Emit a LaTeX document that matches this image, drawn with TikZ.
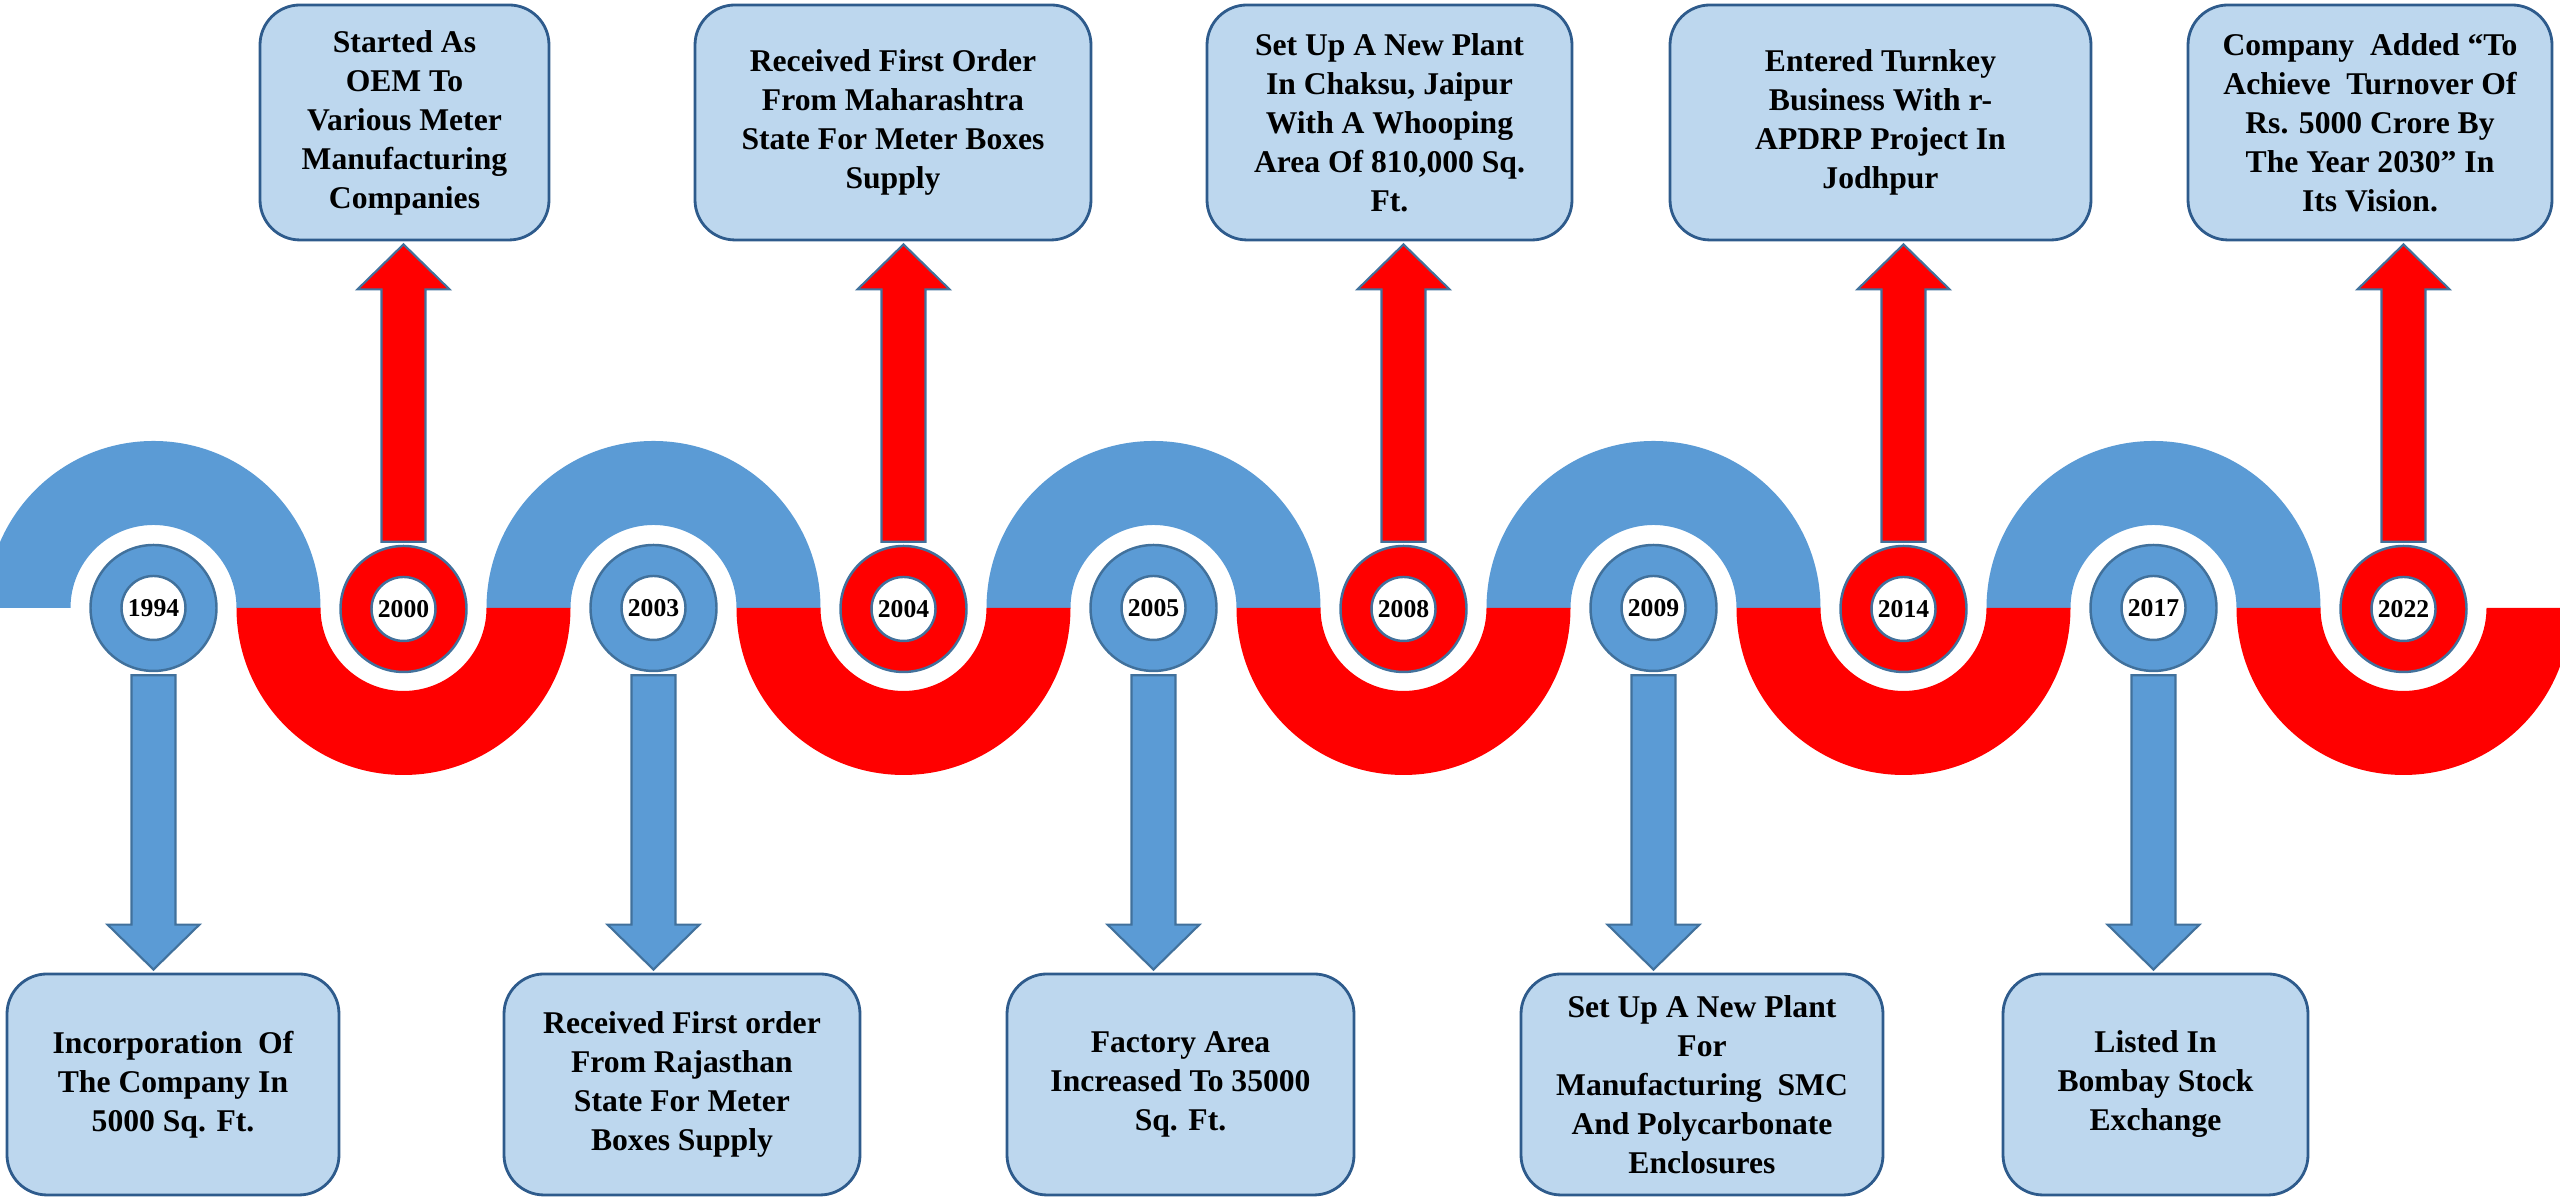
\documentclass[tikz,border=0pt]{standalone}
\usepackage{fontspec}
\setmainfont{Liberation Serif}[BoldFont={Liberation Serif Bold}]
\newfontfamily\tnrfont{Liberation Serif}[BoldFont={Liberation Serif Bold}]
\usetikzlibrary{calc}
\definecolor{wblue}{HTML}{5B9BD5}
\definecolor{wred}{HTML}{FF0000}
\definecolor{oline}{HTML}{41719C}
\definecolor{bfill}{HTML}{BDD7EE}
\definecolor{bline}{HTML}{2E5B8C}
\newcommand\evDown[2]{\draw[bluearr] ($(#1.south)+(-22,-3)$) -- ($(#1.south)+(22,-3)$) -- ($(#1|-#2.north)+(22,48)$) -- ($(#1|-#2.north)+(46,48)$) -- ($(#1|-#2.north)+(0,3)$) -- ($(#1|-#2.north)+(-46,48)$) -- ($(#1|-#2.north)+(-22,48)$) -- cycle;}
\newcommand\evUp[2]{\draw[redarr] ($(#1.north)+(-22,3)$) -- ($(#1.north)+(22,3)$) -- ($(#1|-#2.south)+(22,-48)$) -- ($(#1|-#2.south)+(46,-48)$) -- ($(#1|-#2.south)+(0,-3)$) -- ($(#1|-#2.south)+(-46,-48)$) -- ($(#1|-#2.south)+(-22,-48)$) -- cycle;}
\begin{document}
\begin{tikzpicture}[x=0.1mm,y=0.1mm,
 eventbox/.style={draw=bline, line width=0.8pt, fill=bfill, rounded corners=4mm, align=center, font=\tnrfont\bfseries\fontsize{9}{11.1}\selectfont, inner sep=0pt},
 ring/.style={circle, minimum size=12.6mm, draw=oline, line width=0.7pt, inner sep=0pt},
 yearlabel/.style={circle, minimum size=6.4mm, fill=white, draw=oline, line width=0.7pt, inner sep=0pt, font=\tnrfont\bfseries\fontsize{7.3}{8}\selectfont},
 bluearr/.style={fill=wblue, draw=oline, line width=0.6pt},
 redarr/.style={fill=wred, draw=oline, line width=0.6pt}]
\useasboundingbox (0,0) rectangle (2560,1201);
\begin{scope}
\clip (0,0) rectangle (2560,1201);
\foreach \i in {0,2,4,6,8} {
  \fill[wblue] ({153.5+250*\i-167},593) arc[start angle=180,end angle=0,radius=167] -- ({153.5+250*\i+83},593) arc[start angle=0,end angle=180,radius=83] -- cycle;
}
\foreach \i in {1,3,5,7,9} {
  \fill[wred] ({153.5+250*\i-167},593) arc[start angle=180,end angle=360,radius=167] -- ({153.5+250*\i+83},593) arc[start angle=360,end angle=180,radius=83] -- cycle;
}
\end{scope}

% year markers
\node[ring, fill=wblue] (c1994) at (153.5,593) {};
\node[ring, fill=wred]  (c2000) at (403.5,592) {};
\node[ring, fill=wblue] (c2003) at (653.5,593) {};
\node[ring, fill=wred]  (c2004) at (903.5,592) {};
\node[ring, fill=wblue] (c2005) at (1153.5,593) {};
\node[ring, fill=wred]  (c2008) at (1403.5,592) {};
\node[ring, fill=wblue] (c2009) at (1653.5,593) {};
\node[ring, fill=wred]  (c2014) at (1903.5,592) {};
\node[ring, fill=wblue] (c2017) at (2153.5,593) {};
\node[ring, fill=wred]  (c2022) at (2403.5,592) {};
\node[yearlabel] (y1994) at (c1994) {1994};
\node[yearlabel] (y2000) at (c2000) {2000};
\node[yearlabel] (y2003) at (c2003) {2003};
\node[yearlabel] (y2004) at (c2004) {2004};
\node[yearlabel] (y2005) at (c2005) {2005};
\node[yearlabel] (y2008) at (c2008) {2008};
\node[yearlabel] (y2009) at (c2009) {2009};
\node[yearlabel] (y2014) at (c2014) {2014};
\node[yearlabel] (y2017) at (c2017) {2017};
\node[yearlabel] (y2022) at (c2022) {2022};

% top boxes
\node[eventbox, minimum width=28.9mm, minimum height=23.5mm] (b2000) at (404.5,1078.5) {Started As\\OEM To\\Various Meter\\Manufacturing\\Companies};
\node[eventbox, minimum width=39.6mm, minimum height=23.5mm] (b2004) at (893,1078.5) {Received First Order\\From Maharashtra\\State For Meter Boxes\\Supply};
\node[eventbox, minimum width=36.5mm, minimum height=23.5mm] (b2008) at (1389.5,1078.5) {Set Up A New Plant\\In Chaksu, Jaipur\\With A Whooping\\Area Of 810,000 Sq.\\Ft.};
\node[eventbox, minimum width=42.1mm, minimum height=23.5mm] (b2014) at (1880.5,1078.5) {Entered Turnkey\\Business With r-\\APDRP Project In\\Jodhpur};
\node[eventbox, minimum width=36.4mm, minimum height=23.5mm] (b2022) at (2370,1078.5) {Company \ Added “To\\Achieve \ Turnover Of\\Rs. 5000 Crore By\\The Year 2030” In\\Its Vision.};

% bottom boxes
\node[eventbox, minimum width=33.2mm, minimum height=22.1mm] (b1994) at (173,116.5) {Incorporation \ Of\\The Company In\\5000 Sq. Ft.};
\node[eventbox, minimum width=35.6mm, minimum height=22.1mm] (b2003) at (682,116.5) {Received First order\\From Rajasthan\\State For Meter\\Boxes Supply};
\node[eventbox, minimum width=34.7mm, minimum height=22.1mm] (b2005) at (1180.5,116.5) {Factory Area\\Increased To 35000\\Sq. Ft.};
\node[eventbox, minimum width=36.2mm, minimum height=22.1mm] (b2009) at (1702,116.5) {Set Up A New Plant\\For\\Manufacturing \ SMC\\And Polycarbonate\\Enclosures};
\node[eventbox, minimum width=30.5mm, minimum height=22.1mm] (b2017) at (2155.5,116.5) {Listed In\\Bombay Stock\\Exchange};

% arrows
\evDown{c1994}{b1994}
\evDown{c2003}{b2003}
\evDown{c2005}{b2005}
\evDown{c2009}{b2009}
\evDown{c2017}{b2017}
\evUp{c2000}{b2000}
\evUp{c2004}{b2004}
\evUp{c2008}{b2008}
\evUp{c2014}{b2014}
\evUp{c2022}{b2022}
\end{tikzpicture}
\end{document}
